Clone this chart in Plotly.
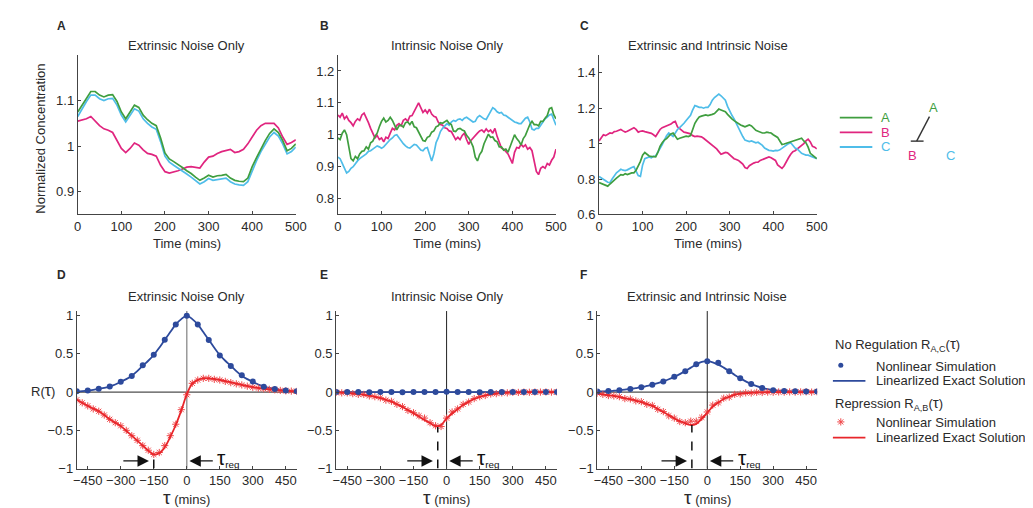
import plotly.graph_objects as go

W, H = 1033, 508

# ---------------- Top row: time courses ----------------
time_A = list(range(0, 501, 10))
extA = [1.075, 1.09, 1.105, 1.12, 1.12, 1.112, 1.108, 1.112, 1.113, 1.098,
        1.075, 1.06, 1.075, 1.09, 1.085, 1.068, 1.058, 1.05, 1.045, 1.018,
        0.985, 0.972, 0.966, 0.96, 0.953, 0.946, 0.94, 0.932, 0.925, 0.93,
        0.936, 0.932, 0.935, 0.936, 0.938, 0.93, 0.925, 0.923, 0.922, 0.93,
        0.955, 0.975, 0.995, 1.012, 1.028, 1.038, 1.03, 1.012, 0.99, 0.995,
        1.005]
extB = [1.055, 1.057, 1.06, 1.065, 1.055, 1.045, 1.038, 1.035, 1.03, 1.012,
        0.995, 0.986, 0.995, 1.007, 1.002, 0.992, 0.984, 0.982, 0.978, 0.958,
        0.944, 0.941, 0.943, 0.946, 0.95, 0.954, 0.955, 0.953, 0.952, 0.965,
        0.976, 0.978, 0.984, 0.988, 0.99, 0.993, 0.986, 0.988, 0.993, 1.005,
        1.02, 1.035, 1.045, 1.05, 1.05, 1.05, 1.04, 1.02, 1.004, 1.008,
        1.014]
extC = [1.065, 1.082, 1.098, 1.112, 1.112, 1.104, 1.1, 1.104, 1.105, 1.09,
        1.068, 1.053, 1.068, 1.082, 1.077, 1.06, 1.05, 1.042, 1.037, 1.01,
        0.978, 0.965, 0.958, 0.952, 0.946, 0.939, 0.932, 0.924, 0.917, 0.922,
        0.929, 0.925, 0.927, 0.928, 0.93, 0.922, 0.917, 0.915, 0.914, 0.922,
        0.947, 0.968, 0.988, 1.005, 1.02, 1.03, 1.022, 1.005, 0.983, 0.988,
        0.998]

time_BC = list(range(0, 501, 5))
intA = [0.99, 0.985, 1.005, 1.015, 1.0, 0.96, 0.925, 0.918, 0.932, 0.925,
        0.94, 0.948, 0.95, 0.962, 0.955, 0.975, 0.98, 0.995, 1.005, 1.025,
        1.042, 1.052, 1.04, 1.045, 1.055, 1.045, 1.03, 1.015, 1.028, 1.03,
        1.024, 1.038, 1.04, 1.032, 1.042, 1.025, 1.022, 1.008, 0.998, 0.982,
        0.98, 0.992, 0.995, 1.008, 1.012, 1.025, 1.028, 1.038, 1.036, 1.042,
        1.045, 1.036, 1.032, 1.012, 1.01, 1.018, 1.02, 1.015, 1.012, 0.998,
        0.99, 0.978, 0.962, 0.93, 0.918, 0.938, 0.948, 0.972, 0.988, 1.002,
        0.992, 0.993, 0.982, 0.978, 0.962, 0.962, 0.952, 0.955, 0.945, 0.962,
        0.985, 1.0, 0.988, 0.98, 0.968, 0.988, 0.998, 1.018, 1.032, 1.042,
        1.032, 1.032, 1.028, 1.042, 1.042, 1.052, 1.06, 1.082, 1.085, 1.062,
        1.05]
intB = [1.062, 1.055, 1.068, 1.05, 1.058, 1.045, 1.038, 1.028, 1.042, 1.05,
        1.045, 1.062, 1.068, 1.055, 1.038, 1.02, 1.005, 0.99, 0.998, 0.985,
        0.99, 0.978, 0.992, 0.988, 1.005, 1.02, 1.015, 1.03, 1.035, 1.028,
        1.045, 1.05, 1.042, 1.058, 1.06, 1.072, 1.085, 1.1, 1.085, 1.07,
        1.078, 1.068, 1.08, 1.065, 1.058, 1.055, 1.04, 1.032, 1.03, 1.022,
        1.02, 1.012, 1.01, 0.995, 0.985, 0.992, 0.985, 0.998, 1.005, 0.985,
        0.97, 0.982, 0.99, 1.0, 1.005, 1.012, 1.015, 1.008, 1.018, 1.01,
        1.015, 1.005, 1.02, 0.995, 0.975, 0.958, 0.955, 0.948, 0.94, 0.925,
        0.91, 0.945, 0.96, 0.958, 0.97, 0.962, 0.968, 0.955, 0.96, 0.95,
        0.92, 0.885, 0.875, 0.895, 0.9, 0.895, 0.91, 0.905, 0.92, 0.93,
        0.955]
intC = [0.93, 0.925, 0.91, 0.895, 0.88, 0.885, 0.895, 0.9, 0.91, 0.918,
        0.925, 0.93, 0.935, 0.94, 0.948, 0.95, 0.955, 0.96, 0.965, 0.962,
        0.958, 0.962, 0.97, 0.978, 0.985, 0.99, 0.998, 1.0, 0.99, 0.978,
        0.972, 0.965, 0.96, 0.958, 0.965, 0.97, 0.968, 0.96, 0.952, 0.95,
        0.958, 0.96, 0.94, 0.918, 0.94, 0.975, 0.99, 1.01, 1.02, 1.028,
        1.035, 1.03, 1.04, 1.045, 1.042, 1.048, 1.05, 1.045, 1.052, 1.055,
        1.05, 1.045, 1.04, 1.042, 1.055, 1.06, 1.055, 1.05, 1.048, 1.06,
        1.075, 1.085, 1.08, 1.072, 1.068, 1.07, 1.062, 1.06, 1.055, 1.05,
        1.045, 1.04, 1.038, 1.035, 1.035, 1.045, 1.052, 1.055, 1.04, 1.018,
        1.015, 1.02, 1.02, 1.03, 1.04, 1.05, 1.055, 1.062, 1.065, 1.045,
        1.03]
bothA = [0.78, 0.775, 0.77, 0.765, 0.76, 0.772, 0.785, 0.795, 0.805, 0.815,
         0.825, 0.822, 0.83, 0.825, 0.83, 0.835, 0.835, 0.85, 0.875, 0.9,
         0.935, 0.95, 0.94, 0.93, 0.928, 0.925, 0.925, 0.95, 0.985, 1.005,
         1.02, 1.028, 1.04, 1.055, 1.06, 1.04, 1.025, 1.03, 1.035, 1.04,
         1.042, 1.04, 1.045, 1.08, 1.115, 1.135, 1.15, 1.155, 1.16, 1.162,
         1.158, 1.16, 1.165, 1.17, 1.18, 1.195, 1.19, 1.185, 1.18, 1.165,
         1.15, 1.14, 1.13, 1.12, 1.115, 1.105, 1.1, 1.095, 1.1, 1.105,
         1.1, 1.085, 1.075, 1.07, 1.065, 1.06, 1.06, 1.065, 1.062, 1.06,
         1.05, 1.042, 1.035, 1.015, 0.995, 0.998, 1.002, 1.005, 1.008, 1.01,
         1.015, 1.02, 1.025, 1.03, 1.015, 1.005, 0.98, 0.945, 0.935, 0.925,
         0.915]
bothB = [1.015, 1.035, 1.05, 1.045, 1.055, 1.06, 1.058, 1.068, 1.07, 1.075,
         1.08, 1.072, 1.065, 1.07, 1.078, 1.085, 1.09, 1.08, 1.065, 1.07,
         1.072, 1.068, 1.065, 1.06, 1.058, 1.05, 1.04, 1.06, 1.08, 1.09,
         1.095, 1.1, 1.105, 1.11, 1.12, 1.125, 1.095, 1.085, 1.07, 1.065,
         1.062, 1.06, 1.055, 1.045, 1.04, 1.042, 1.04, 1.038, 1.03, 1.02,
         1.015, 1.005, 0.995, 0.985, 0.97, 0.955, 0.94, 0.945, 0.95, 0.948,
         0.935, 0.925, 0.915, 0.91, 0.905, 0.895, 0.885, 0.865, 0.86, 0.875,
         0.885, 0.89, 0.895, 0.895, 0.905, 0.91, 0.915, 0.92, 0.925, 0.92,
         0.91, 0.905, 0.88, 0.87, 0.86, 0.875, 0.9, 0.92, 0.94, 0.955,
         0.96, 0.97, 0.978, 0.985, 1.0, 1.015, 1.025, 1.01, 0.985, 0.98,
         0.97]
bothC = [0.815, 0.805, 0.795, 0.79, 0.782, 0.78, 0.8, 0.82, 0.835, 0.845,
         0.855, 0.85, 0.848, 0.852, 0.86, 0.865, 0.87, 0.84, 0.82, 0.815,
         0.88, 0.915, 0.92, 0.925, 0.92, 0.928, 0.93, 0.95, 0.975, 0.995,
         1.02, 1.045, 1.06, 1.05, 1.04, 1.06, 1.08, 1.09, 1.1, 1.115,
         1.13, 1.145, 1.16, 1.19, 1.215, 1.21, 1.205, 1.205, 1.2, 1.205,
         1.205, 1.22, 1.245, 1.26, 1.27, 1.28, 1.27, 1.255, 1.245, 1.21,
         1.18, 1.16, 1.14, 1.115, 1.085, 1.06, 1.04, 1.02, 1.015, 1.012,
         1.015, 1.01, 1.005, 1.008, 1.0, 0.99, 0.975, 0.968, 0.962, 0.96,
         0.958, 0.962, 0.96, 0.965, 0.975, 0.98, 0.99, 1.0, 1.005, 0.99,
         0.975, 0.97, 0.955, 0.945, 0.94, 0.935, 0.935, 0.93, 0.925, 0.92,
         0.915]

# ---------------- Bottom row: correlation functions ----------------
tau_line = list(range(-500, 501, 25))
tau_dots = list(range(-500, 501, 50))
tau_stars = list(range(-500, 501, 25))

D_blue_line = [0.01, 0.014, 0.02, 0.03, 0.042, 0.055, 0.075, 0.1, 0.135, 0.17,
               0.215, 0.275, 0.345, 0.41, 0.485, 0.58, 0.685, 0.785, 0.885, 0.955,
               1.0,
               0.955, 0.885, 0.785, 0.685, 0.58, 0.485, 0.41, 0.345, 0.275, 0.215,
               0.17, 0.135, 0.1, 0.075, 0.055, 0.042, 0.03, 0.02, 0.014, 0.01]
D_blue_dots = [0.01, 0.02, 0.043, 0.073, 0.137, 0.21, 0.35, 0.487, 0.684, 0.885,
               1.0, 0.885, 0.68, 0.48, 0.34, 0.22, 0.14, 0.07, 0.04, 0.02, 0.01]
D_red_line = [-0.1, -0.14, -0.18, -0.215, -0.25, -0.3, -0.355, -0.4, -0.445, -0.505,
              -0.57, -0.635, -0.7, -0.765, -0.815, -0.8, -0.72, -0.585, -0.43, -0.24,
              -0.03,
              0.11, 0.16, 0.18, 0.18, 0.172, 0.16, 0.145, 0.128, 0.112, 0.095,
              0.08, 0.066, 0.054, 0.044, 0.036, 0.029, 0.022, 0.017, 0.013, 0.009]
D_red_stars = [-0.1, -0.14, -0.18, -0.22, -0.25, -0.3, -0.355, -0.4, -0.44, -0.5,
               -0.57, -0.63, -0.7, -0.76, -0.815, -0.79, -0.7, -0.57, -0.42, -0.23,
               -0.035,
               0.115, 0.158, 0.18, 0.18, 0.167, 0.158, 0.14, 0.124, 0.108, 0.094,
               0.078, 0.064, 0.052, 0.043, 0.036, 0.03, 0.022, 0.017, 0.013, 0.009]

E_blue_line = [0.0, 0.0, 0.0, 0.0, 0.0, 0.0, 0.0, 0.0, 0.0, 0.0,
               0.0, 0.0, 0.0, 0.0, 0.0, 0.0, 0.0, 0.0, 0.0, 0.0,
               0.0,
               0.0, 0.0, 0.0, 0.0, 0.0, 0.0, 0.0, 0.0, 0.0, 0.0,
               0.0, 0.0, 0.0, 0.0, 0.0, 0.0, 0.0, 0.0, 0.0, 0.0]
E_blue_dots = [0.003, 0.002, 0.0, -0.002, 0.001, 0.0, -0.001, 0.002, 0.0, 0.001,
               0.005, 0.002, 0.0, -0.001, 0.001, 0.0, 0.002, 0.0, 0.001, 0.0, 0.002]
E_red_line = [-0.005, -0.008, -0.012, -0.018, -0.026, -0.035, -0.047, -0.062, -0.08, -0.1,
              -0.125, -0.158, -0.195, -0.235, -0.275, -0.32, -0.365, -0.405, -0.445, -0.43,
              -0.345,
              -0.28, -0.22, -0.168, -0.124, -0.09, -0.064, -0.044, -0.03, -0.02, -0.013,
              -0.008, -0.005, -0.003, -0.002, -0.001, 0.0, 0.0, 0.0, 0.0, 0.0]
E_red_stars = [-0.004, -0.01, -0.01, -0.02, -0.03, -0.03, -0.05, -0.06, -0.075, -0.105,
               -0.12, -0.16, -0.19, -0.24, -0.27, -0.31, -0.34, -0.4, -0.44, -0.45,
               -0.34,
               -0.26, -0.22, -0.16, -0.13, -0.085, -0.06, -0.045, -0.025, -0.02, -0.01,
               -0.01, -0.003, -0.004, 0.0, -0.002, 0.001, 0.0, 0.002, 0.0, 0.001]

F_blue_line = [0.008, 0.01, 0.013, 0.018, 0.024, 0.032, 0.042, 0.052, 0.064, 0.08,
               0.097, 0.117, 0.14, 0.168, 0.2, 0.235, 0.275, 0.32, 0.362, 0.395,
               0.405,
               0.39, 0.36, 0.32, 0.275, 0.225, 0.18, 0.14, 0.105, 0.077, 0.055,
               0.038, 0.026, 0.018, 0.013, 0.011, 0.01, 0.009, 0.008, 0.008, 0.008]
F_blue_dots = [0.008, 0.013, 0.025, 0.042, 0.063, 0.097, 0.14, 0.2, 0.274, 0.363,
               0.405, 0.384, 0.274, 0.18, 0.105, 0.055, 0.025, 0.013, 0.012, 0.008, 0.008]
F_red_line = [-0.02, -0.03, -0.04, -0.05, -0.065, -0.08, -0.095, -0.11, -0.13, -0.155,
              -0.18, -0.22, -0.26, -0.3, -0.345, -0.38, -0.41, -0.43, -0.415, -0.35,
              -0.27,
              -0.19, -0.135, -0.09, -0.06, -0.035, -0.02, -0.012, -0.008, -0.005, -0.003,
              -0.002, -0.001, 0.0, 0.0, 0.0, 0.0, 0.0, 0.0, 0.0, 0.0]
F_red_stars = [-0.015, -0.03, -0.045, -0.05, -0.06, -0.085, -0.09, -0.115, -0.125, -0.16,
               -0.175, -0.225, -0.255, -0.31, -0.34, -0.385, -0.4, -0.38, -0.38, -0.33,
               -0.26,
               -0.17, -0.14, -0.08, -0.065, -0.03, -0.025, -0.01, -0.012, -0.003, -0.005,
               0.0, -0.002, 0.002, 0.0, 0.003, 0.0, 0.002, 0.004, 0.0, 0.003]

tau_reg = [-150, -40, -70]          # lag of repression minimum in D, E, F
tau_reg_min = [-0.815, -0.455, -0.43]

top_titles = ["Extrinsic Noise Only", "Intrinsic Noise Only", "Extrinsic and Intrinsic Noise"]
bottom_titles = top_titles
panel_letters = ["A", "B", "C", "D", "E", "F"]
top_xticks = [0, 100, 200, 300, 400, 500]
bottom_xticks = [-450, -300, -150, 0, 150, 300, 450]
top_yticks = [[0.9, 1.0, 1.1], [0.8, 0.9, 1.0, 1.1, 1.2], [0.6, 0.8, 1.0, 1.2, 1.4]]
top_yranges = [[0.85, 1.2], [0.75, 1.25], [0.6, 1.5]]
bottom_yticks = [-1, -0.5, 0, 0.5, 1]

for arr in (intA, intB, intC, bothA, bothB, bothC):
    assert len(arr) == len(time_BC)
for arr in (extA, extB, extC):
    assert len(arr) == len(time_A)
for arr in (D_blue_line, D_red_line, D_red_stars, E_blue_line, E_red_line, E_red_stars,
            F_blue_line, F_red_line, F_red_stars):
    assert len(arr) == len(tau_line)
for arr in (D_blue_dots, E_blue_dots, F_blue_dots):
    assert len(arr) == len(tau_dots)

# ---------------- Styling ----------------
FONT = "Liberation Sans, Arial, Helvetica, sans-serif"
TXT = "#2a2a2a"
GREEN = "#3f9e3f"
MAGENTA = "#e0257f"
CYAN = "#4fbde9"
BLUE = "#2d4a9c"
RED = "#e8262b"
STAR = "#f0484a"
AXC = "#444444"
FS = 13

top_dom_x = [[66.7, 288], [330.7, 552], [595.7, 816.7]]
bot_dom_x = [[65.7, 289], [329, 553], [594, 817]]
top_dom_y = [45, 208]
bot_dom_y = [306.7, 467.7]

def px2fx(a, b):
    return [a / W, b / W]

def py2fy(top, bottom):
    return [1 - bottom / H, 1 - top / H]

fig = go.Figure()

top_data = [(time_A, extA, extB, extC), (time_BC, intA, intB, intC), (time_BC, bothA, bothB, bothC)]
for i, (t, a, b, c) in enumerate(top_data):
    xa, ya = f"x{i+1 if i else ''}", f"y{i+1 if i else ''}"
    for ser, col in ((b, MAGENTA), (c, CYAN), (a, GREEN)):
        fig.add_trace(go.Scatter(x=t, y=ser, mode="lines", xaxis=xa, yaxis=ya,
                                 line=dict(color=col, width=1.7), showlegend=False,
                                 hoverinfo="skip"))

bot_data = [(D_blue_line, D_blue_dots, D_red_line, D_red_stars),
            (E_blue_line, E_blue_dots, E_red_line, E_red_stars),
            (F_blue_line, F_blue_dots, F_red_line, F_red_stars)]
for i, (bl, bd, rl, rs) in enumerate(bot_data):
    xa, ya = f"x{i+4}", f"y{i+4}"
    fig.add_trace(go.Scatter(x=tau_line, y=bl, mode="lines", xaxis=xa, yaxis=ya,
                             line=dict(color=BLUE, width=1.8, shape="spline"), showlegend=False))
    fig.add_trace(go.Scatter(x=tau_stars, y=rs, mode="markers", xaxis=xa, yaxis=ya,
                             marker=dict(symbol="asterisk-open", size=6, color=STAR,
                                         line=dict(color=STAR, width=1)), showlegend=False))
    fig.add_trace(go.Scatter(x=tau_line, y=rl, mode="lines", xaxis=xa, yaxis=ya,
                             line=dict(color=RED, width=1.8, shape="spline"), showlegend=False))
    fig.add_trace(go.Scatter(x=tau_dots, y=bd, mode="markers", xaxis=xa, yaxis=ya,
                             marker=dict(symbol="circle", size=6, color=BLUE), showlegend=False))

# legend marker samples on a pixel overlay axis
fig.add_trace(go.Scatter(x=[841], y=[362], mode="markers", xaxis="x7", yaxis="y7",
                         marker=dict(symbol="circle", size=5, color=BLUE), showlegend=False))
fig.add_trace(go.Scatter(x=[841], y=[420], mode="markers", xaxis="x7", yaxis="y7",
                         marker=dict(symbol="asterisk-open", size=6, color=STAR,
                                     line=dict(color=STAR, width=1)), showlegend=False))

axis_common = dict(showline=True, linecolor=AXC, linewidth=1, ticks="inside", ticklen=3,
                   tickcolor=AXC, showgrid=False, zeroline=False, mirror=False,
                   tickfont=dict(family=FONT, size=FS, color=TXT), fixedrange=True)

layout = dict(width=W, height=H, margin=dict(l=0, r=0, t=0, b=0),
              paper_bgcolor="white", plot_bgcolor="rgba(0,0,0,0)", showlegend=False,
              font=dict(family=FONT, size=FS, color=TXT))

for i in range(3):
    xk = "xaxis" + (str(i + 1) if i else "")
    yk = "yaxis" + (str(i + 1) if i else "")
    layout[xk] = dict(domain=px2fx(*top_dom_x[i]), range=[0, 500], tickvals=top_xticks,
                      anchor="y" + (str(i + 1) if i else ""), **axis_common)
    layout[yk] = dict(domain=py2fy(*top_dom_y), range=top_yranges[i], tickvals=top_yticks[i],
                      anchor="x" + (str(i + 1) if i else ""), **axis_common)
for i in range(3):
    n = i + 4
    layout[f"xaxis{n}"] = dict(domain=px2fx(*bot_dom_x[i]), range=[-500, 500],
                               tickvals=bottom_xticks, anchor=f"y{n}", **axis_common)
    layout[f"yaxis{n}"] = dict(domain=py2fy(*bot_dom_y), range=[-1, 1.06],
                               tickvals=bottom_yticks, anchor=f"x{n}", **axis_common)
layout["xaxis7"] = dict(domain=[0, 1], range=[0, W], visible=False, anchor="y7", fixedrange=True)
layout["yaxis7"] = dict(domain=[0, 1], range=[H, 0], visible=False, anchor="x7", fixedrange=True)

shapes = []
annotations = []

def pix_text(x, y, text, size=FS, color=TXT, xanchor="center", bold=False, angle=0):
    annotations.append(dict(x=x, y=y, xref="x7", yref="y7", text=(f"<b>{text}</b>" if bold else text),
                            showarrow=False, xanchor=xanchor, yanchor="middle", textangle=angle,
                            font=dict(family=FONT, size=size, color=color)))

letter_pos = [(44, 15), (311, 15), (574, 15), (44, 270), (311, 270), (574, 270)]
for (lx, ly), L in zip(letter_pos, panel_letters):
    pix_text(lx, ly, L, size=12, bold=True, xanchor="left")

for i in range(3):
    cx = (top_dom_x[i][0] + top_dom_x[i][1]) / 2
    pix_text(cx, 35, top_titles[i])
    pix_text(cx, 238, "Time (mins)")
    bx = (bot_dom_x[i][0] + bot_dom_x[i][1]) / 2
    pix_text(bx, 292, bottom_titles[i])
    pix_text(bx, 497, "<span style='font-size:19px'>τ</span> (mins)")

pix_text(29, 131, "Normalized Concentration", angle=-90)
pix_text(31, 388, "R(<span style='font-size:16px'>τ</span>)")

# zero lines, vertical lines, dashed tau_reg, arrows
for i in range(3):
    n = i + 4
    shapes.append(dict(type="line", xref=f"x{n} domain", yref=f"y{n}", x0=0, x1=1, y0=0, y1=0,
                       line=dict(color="#222", width=1), layer="below"))
    shapes.append(dict(type="line", xref=f"x{n}", yref=f"y{n} domain", x0=0, x1=0, y0=0, y1=1,
                       line=dict(color="#999999" if i == 0 else "#222", width=1.5 if i == 0 else 1),
                       layer="below"))
    shapes.append(dict(type="line", xref=f"x{n}", yref=f"y{n}", x0=tau_reg[i], x1=tau_reg[i],
                       y0=-1, y1=tau_reg_min[i], line=dict(color="#111", width=1.5, dash="dash")))
    annotations.append(dict(x=tau_reg[i] - 22, y=-0.9, ax=tau_reg[i] - 145, ay=-0.9,
                            xref=f"x{n}", yref=f"y{n}", axref=f"x{n}", ayref=f"y{n}", text="",
                            showarrow=True, arrowhead=2, arrowsize=1.9, arrowwidth=1.2,
                            arrowcolor="#111"))
    annotations.append(dict(x=12, y=-0.9, ax=125, ay=-0.9,
                            xref=f"x{n}", yref=f"y{n}", axref=f"x{n}", ayref=f"y{n}", text="",
                            showarrow=True, arrowhead=2, arrowsize=1.9, arrowwidth=1.2,
                            arrowcolor="#111"))
    annotations.append(dict(x=130, y=-0.86, xref=f"x{n}", yref=f"y{n}", xanchor="left",
                            yanchor="middle", showarrow=False,
                            text="<span style='font-size:21px'>τ</span><sub>reg</sub>",
                            font=dict(family=FONT, size=14, color="#111")))

# top legend
for yy, col, lab in ((109, GREEN, "A"), (124, MAGENTA, "B"), (139, CYAN, "C")):
    shapes.append(dict(type="line", xref="x7", yref="y7", x0=840, x1=873, y0=yy, y1=yy,
                       line=dict(color=col, width=1.8)))
    pix_text(880, yy, lab, color=col, xanchor="left")
pix_text(935, 99, "A", color=GREEN)
pix_text(914, 148, "B", color=MAGENTA)
pix_text(952, 148, "C", color=CYAN)
shapes.append(dict(type="line", xref="x7", yref="y7", x0=931, x1=918, y0=108, y1=133,
                   line=dict(color="#333", width=1.4)))
shapes.append(dict(type="line", xref="x7", yref="y7", x0=912, x1=925, y0=133, y1=133,
                   line=dict(color="#333", width=1.4)))

# bottom legend
pix_text(833, 341, "No Regulation R<sub>A,C</sub>(<span style='font-size:15px'>τ</span>)", xanchor="left")
pix_text(875, 363, "Nonlinear Simulation", xanchor="left")
shapes.append(dict(type="line", xref="x7", yref="y7", x0=833, x1=866, y0=378, y1=378,
                   line=dict(color=BLUE, width=1.8)))
pix_text(875, 378, "Linearlized Exact Solution", xanchor="left")
pix_text(833, 401, "Repression R<sub>A,B</sub>(<span style='font-size:15px'>τ</span>)", xanchor="left")
pix_text(875, 421, "Nonlinear Simulation", xanchor="left")
shapes.append(dict(type="line", xref="x7", yref="y7", x0=833, x1=866, y0=436, y1=436,
                   line=dict(color=RED, width=1.8)))
pix_text(875, 436, "Linearlized Exact Solution", xanchor="left")

layout["shapes"] = shapes
layout["annotations"] = annotations
fig.update_layout(**layout)
fig.write_html("out.html")
